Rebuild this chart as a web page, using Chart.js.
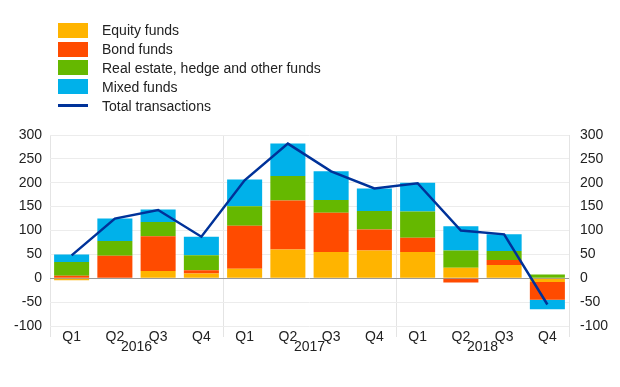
<!DOCTYPE html>
<html>
<head>
<meta charset="utf-8">
<script src="https://cdn.jsdelivr.net/npm/chart.js@4"></script>
<style>
  body { margin: 0; background: #fff; font-family: "Liberation Sans", Arial, sans-serif; }
  #wrap { position: relative; width: 620px; height: 387px; }
  #legend { position: absolute; left: 58px; top: 21px; font-size: 14px; color: #222; }
  #legend .row { height: 18.8px; display: flex; align-items: center; }
  #legend .sw { width: 30px; height: 15px; margin-right: 14px; }
  #legend .ln { width: 30px; height: 2.5px; margin-right: 14px; }
</style>
</head>
<body>
<div id="wrap">
  <canvas id="chart"></canvas>
  <div id="legend"></div>
</div>
<script>
const quarters = ["Q1", "Q2", "Q3", "Q4", "Q1", "Q2", "Q3", "Q4", "Q1", "Q2", "Q3", "Q4"];
const years = ["2016", "2017", "2018"];

const equity = [-4, 0, 15, 10, 20, 60, 55, 58, 55, 22, 28, -8];
const bond = [5, 47, 73, 7, 90, 103, 82, 44, 30, -9, 10, -37];
const other = [29, 31, 30, 31, 41, 51, 27, 39, 55, 36, 19, 8];
const mixed = [16, 47, 26, 39, 56, 68, 60, 47, 60, 51, 35, -20];
const total = [48, 125, 143, 87, 205, 282, 224, 188, 199, 100, 92, -55];

const yTicks = [-100, -50, 0, 50, 100, 150, 200, 250, 300];

const font = { family: "'Liberation Sans', Arial, sans-serif", size: 14 };
const textColor = "#222";

function bar(label, data, color) {
  return {
    type: "bar",
    label: label,
    data: data,
    backgroundColor: color,
    borderWidth: 0,
    barPercentage: 0.81,
    categoryPercentage: 1,
    yAxisID: "y",
    order: 1,
  };
}

const datasets = [
  bar("Equity funds", equity, "#ffb400"),
  bar("Bond funds", bond, "#ff4b00"),
  bar("Real estate, hedge and other funds", other, "#65b800"),
  bar("Mixed funds", mixed, "#00b1ea"),
  {
    type: "line",
    label: "Total transactions",
    data: total,
    borderColor: "#003299",
    borderWidth: 2.5,
    pointRadius: 0,
    tension: 0,
    fill: false,
    yAxisID: "y2",
    order: 0,
  },
];

// legend as plain html, one row per series
const lg = document.getElementById("legend");
datasets.forEach((d) => {
  const row = document.createElement("div");
  row.className = "row";
  const mark = document.createElement("span");
  if (d.type === "line") {
    mark.className = "ln";
    mark.style.background = d.borderColor;
  } else {
    mark.className = "sw";
    mark.style.background = d.backgroundColor;
  }
  const txt = document.createElement("span");
  txt.textContent = d.label;
  row.appendChild(mark);
  row.appendChild(txt);
  lg.appendChild(row);
});

const ct = document.getElementById("chart");

new Chart(ct, {
  data: { labels: quarters, datasets: datasets },
  options: {
    responsive: true,
    maintainAspectRatio: false,
    animation: false,
    layout: { padding: { top: 135, left: 0, right: 0, bottom: 30 } },
    plugins: { legend: { display: false }, tooltip: { enabled: false } },
    scales: {
      x: {
        stacked: true,
        offset: true,
        border: { display: false },
        grid: {
          offset: true,
          drawTicks: true,
          tickLength: 11,
          color: (ctx) => (ctx.type !== "tick" || ctx.index % 4 === 0 ? "#e4e4e4" : "rgba(0,0,0,0)"),
        },
        // mirror + negative padding: labels sit over the separator ticks without clipping
        ticks: { font: font, color: textColor, padding: -20, mirror: true, maxRotation: 0 },
        afterFit: (s) => { s.height = 11; },
      },
      x2: {
        type: "category",
        labels: years,
        position: "bottom",
        offset: true,
        border: { display: false },
        grid: { display: false, drawTicks: false },
        ticks: { font: font, color: textColor, padding: -18.5, mirror: true, maxRotation: 0 },
        afterFit: (s) => { s.height = 20; },
      },
      y: {
        stacked: true,
        min: -100,
        max: 300,
        afterBuildTicks: (s) => { s.ticks = yTicks.map((v) => ({ value: v })); },
        afterFit: (s) => { s.width = 50; },
        border: { display: false },
        grid: {
          drawTicks: false,
          color: (ctx) => (ctx.tick && ctx.tick.value === 0 ? "#9a9a9a" : "#ececec"),
        },
        ticks: { font: font, color: textColor, padding: 8 },
      },
      y2: {
        position: "right",
        min: -100,
        max: 300,
        afterBuildTicks: (s) => { s.ticks = yTicks.map((v) => ({ value: v })); },
        afterFit: (s) => { s.width = 51; },
        border: { display: false },
        grid: { display: false, drawTicks: false },
        ticks: { font: font, color: textColor, padding: 11 },
      },
    },
  },
});
</script>
</body>
</html>
